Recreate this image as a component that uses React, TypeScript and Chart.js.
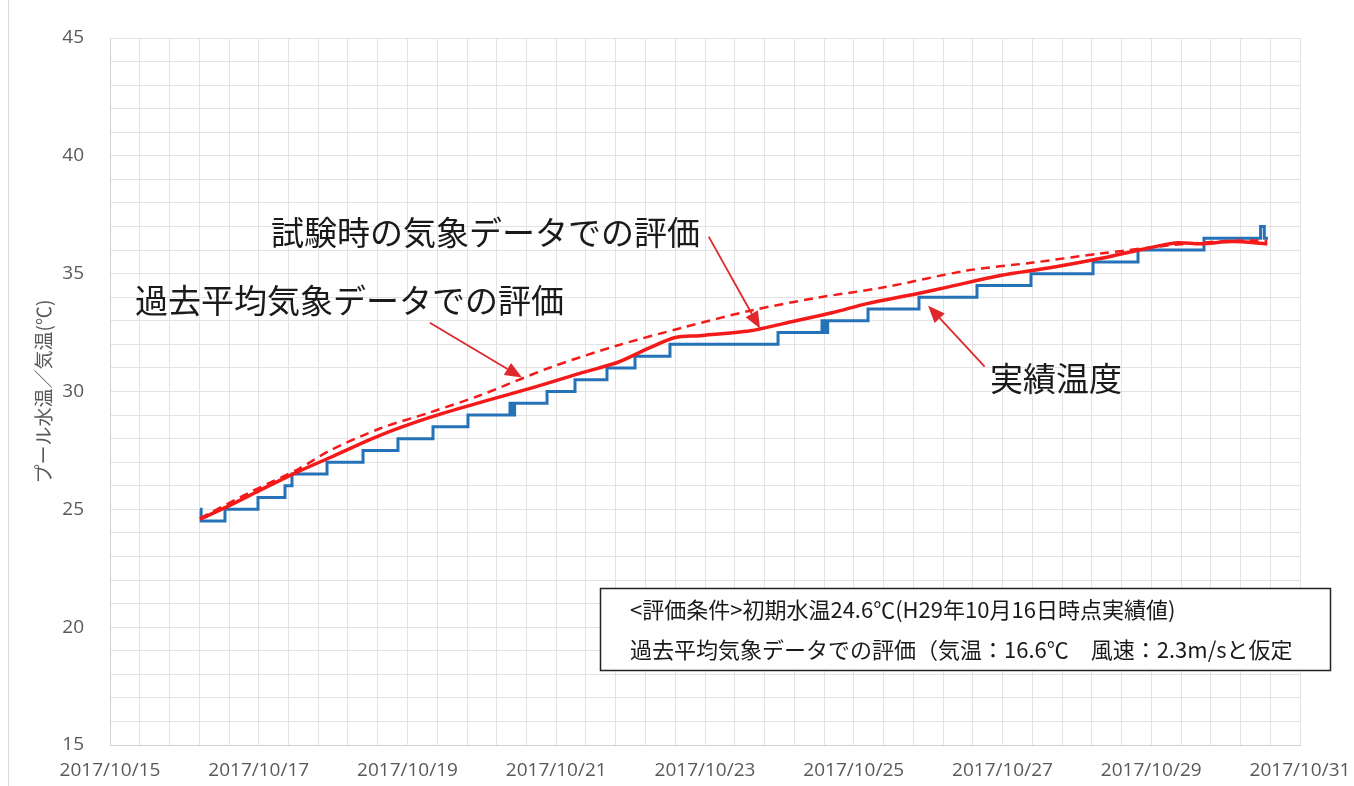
import { useEffect, useRef } from 'react';
import { Chart, registerables } from 'chart.js';

Chart.register(...registerables);

// ---- axis ticks ----
const X_LABEL_DAYS = [15, 17, 19, 21, 23, 25, 27, 29, 31];
const X_TICK_LABELS = X_LABEL_DAYS.map((d) => `2017/10/${d}`);
const Y_TICK_LABELS = [15, 20, 25, 30, 35, 40, 45];
const Y_TITLE = 'プール水温／気温(℃)';

// ---- series: 実績温度 (actual, stepped) ----
const ACTUAL_DAYS = [
  16.21, 16.225, 16.546, 16.99, 17.353, 17.447, 17.918, 18.402, 18.872, 19.343, 19.813,
  20.378, 20.41, 20.44, 20.876, 21.252, 21.682, 22.059, 22.529, 23.982, 24.573, 24.61,
  24.65, 25.192, 25.877, 26.657, 27.383, 28.217, 28.822, 29.709, 30.47, 30.52, 30.57,
];
const ACTUAL_TEMPS = [
  25.0, 24.5, 25.0, 25.5, 26.0, 26.5, 27.0, 27.5, 28.0, 28.5, 29.0,
  29.5, 29.0, 29.5, 30.0, 30.5, 31.0, 31.5, 32.0, 32.5, 33.0, 32.5,
  33.0, 33.5, 34.0, 34.5, 35.0, 35.5, 36.0, 36.5, 37.0, 36.5, 36.5,
];

// ---- series: 試験時の気象データでの評価 ----
const TEST_WEATHER_DAYS = [
  16.21, 16.61, 17.06, 17.51, 17.96, 18.63, 19.3, 19.97, 20.65, 21.36, 21.82, 22.26, 22.6,
  22.93, 23.61, 24.05, 24.72, 25.18, 25.85, 26.29, 26.97, 27.64, 28.31, 28.98, 29.35,
  29.66, 30.1, 30.56,
];
const TEST_WEATHER_TEMPS = [
  24.58, 25.17, 25.88, 26.57, 27.2, 28.14, 28.9, 29.53, 30.13, 30.81, 31.23, 31.86, 32.29,
  32.37, 32.58, 32.88, 33.35, 33.73, 34.15, 34.45, 34.92, 35.25, 35.64, 36.1, 36.31,
  36.27, 36.36, 36.27,
];

// ---- series: 過去平均気象データでの評価 ----
const PAST_AVG_DAYS = [
  16.21, 16.88, 17.55, 17.96, 18.63, 19.3, 19.97, 20.92, 21.82, 22.7, 23.61, 24.51, 25.39,
  26.52, 27.41, 28.31, 29.21, 29.66, 30.1, 30.56,
];
const PAST_AVG_TEMPS = [
  24.62, 25.72, 26.74, 27.5, 28.43, 29.11, 29.83, 31.02, 31.95, 32.71, 33.43, 33.98, 34.41,
  35.13, 35.47, 35.85, 36.19, 36.31, 36.4, 36.4,
];

const SERIES_NAMES = ['試験時の気象データでの評価', '過去平均気象データでの評価', '実績温度'];
const BOX_LINES = [
  '<評価条件>初期水温24.6℃(H29年10月16日時点実績値)',
  '過去平均気象データでの評価（気温：16.6℃　風速：2.3m/sと仮定',
];

const toPoints = (xs: number[], ys: number[]) => xs.map((x, i) => ({ x, y: ys[i] }));

const RED = '#f51a1a';
const ARROW_RED = '#e0282c';
const BLUE = '#2672b8';
const GRID = '#e3e3e3';
const TICK = '#595959';
const CJK = '"Noto Sans CJK JP", "Noto Sans", sans-serif';

// annotation layout (arrows in data units, text/box in pixels)
const ARROWS = [
  { from: [23.05, 36.57], to: [23.74, 32.67] },
  { from: [19.3, 32.92], to: [20.54, 30.59] },
  { from: [26.76, 31.06], to: [26.0, 33.64] },
];
const LABELS = [
  { text: SERIES_NAMES[0], x: 271, y: 232 },
  { text: SERIES_NAMES[1], x: 135, y: 300 },
  { text: SERIES_NAMES[2], x: 990, y: 378 },
];

const annotationPlugin = {
  id: 'annotations',
  beforeDraw(chart: any) {
    const { ctx } = chart;
    ctx.save();
    ctx.strokeStyle = '#d9d9d9';
    ctx.lineWidth = 1;
    ctx.beginPath();
    ctx.moveTo(8.5, 0);
    ctx.lineTo(8.5, chart.height);
    ctx.stroke();
    ctx.restore();
  },
  afterDatasetsDraw(chart: any) {
    const { ctx, scales } = chart;
    const xs = scales.x;
    const ys = scales.y;
    ctx.save();
    // arrows
    for (const a of ARROWS) {
      const x1 = xs.getPixelForValue(a.from[0]);
      const y1 = ys.getPixelForValue(a.from[1]);
      const x2 = xs.getPixelForValue(a.to[0]);
      const y2 = ys.getPixelForValue(a.to[1]);
      const ang = Math.atan2(y2 - y1, x2 - x1);
      const head = 17;
      const half = 7;
      const bx = x2 - head * Math.cos(ang);
      const by = y2 - head * Math.sin(ang);
      ctx.strokeStyle = ARROW_RED;
      ctx.lineWidth = 1.8;
      ctx.beginPath();
      ctx.moveTo(x1, y1);
      ctx.lineTo(bx, by);
      ctx.stroke();
      ctx.fillStyle = ARROW_RED;
      ctx.beginPath();
      ctx.moveTo(x2, y2);
      ctx.lineTo(bx + half * Math.sin(ang), by - half * Math.cos(ang));
      ctx.lineTo(bx - half * Math.sin(ang), by + half * Math.cos(ang));
      ctx.closePath();
      ctx.fill();
    }
    // labels
    ctx.fillStyle = '#1a1a1a';
    ctx.font = `33px ${CJK}`;
    ctx.textAlign = 'left';
    ctx.textBaseline = 'middle';
    for (const l of LABELS) ctx.fillText(l.text, l.x, l.y);
    // box
    ctx.fillStyle = '#ffffff';
    ctx.fillRect(600, 588, 730, 82);
    ctx.strokeStyle = '#222222';
    ctx.lineWidth = 1.5;
    ctx.strokeRect(600.5, 588.5, 730, 82);
    ctx.fillStyle = '#1a1a1a';
    ctx.font = `22px ${CJK}`;
    ctx.fillText(BOX_LINES[0], 630, 610);
    ctx.fillText(BOX_LINES[1], 630, 650);
    ctx.restore();
  },
};

export default function App() {
  const ref = useRef<HTMLCanvasElement | null>(null);
  useEffect(() => {
    if (!ref.current) return;
    const xGrid: number[] = [];
    for (let i = 0; i <= 40; i++) xGrid.push(Math.round((15 + i * 0.4) * 1000) / 1000);
    const yGrid: number[] = [];
    for (let v = 15; v <= 45; v++) yGrid.push(v);

    const chart = new Chart(ref.current, {
      type: 'line',
      data: {
        datasets: [
          {
            label: SERIES_NAMES[0],
            data: toPoints(TEST_WEATHER_DAYS, TEST_WEATHER_TEMPS),
            borderColor: RED,
            borderWidth: 3.5,
            pointRadius: 0,
            tension: 0.3,
            fill: false,
          },
          {
            label: SERIES_NAMES[1],
            data: toPoints(PAST_AVG_DAYS, PAST_AVG_TEMPS),
            borderColor: RED,
            borderWidth: 2.5,
            borderDash: [9, 6],
            pointRadius: 0,
            tension: 0.3,
            fill: false,
          },
          {
            label: SERIES_NAMES[2],
            data: toPoints(ACTUAL_DAYS, ACTUAL_TEMPS),
            borderColor: BLUE,
            borderWidth: 3,
            pointRadius: 0,
            stepped: true,
            fill: false,
          },
        ],
      },
      options: {
        animation: false,
        responsive: false,
        devicePixelRatio: 1,
        layout: { padding: { left: 0, top: 38, right: 54, bottom: 0 } },
        plugins: { legend: { display: false }, tooltip: { enabled: false } },
        scales: {
          x: {
            type: 'linear',
            min: 15,
            max: 31,
            afterBuildTicks: (s: any) => {
              s.ticks = xGrid.map((v) => ({ value: v }));
            },
            afterFit: (s: any) => {
              s.height = 41;
              s.paddingLeft = 0;
              s.paddingRight = 0;
            },
            grid: { color: GRID, drawTicks: false, lineWidth: 1 },
            border: { color: '#d0d0d0' },
            ticks: {
              autoSkip: false,
              maxRotation: 0,
              padding: 14,
              color: TICK,
              font: { family: '"Open Sans", sans-serif', size: 19 },
              callback: (v: any) => {
                const idx = X_LABEL_DAYS.findIndex((d) => Math.abs(d - Number(v)) < 1e-6);
                return idx >= 0 ? X_TICK_LABELS[idx] : '';
              },
            },
          },
          y: {
            type: 'linear',
            min: 15,
            max: 45,
            afterBuildTicks: (s: any) => {
              s.ticks = yGrid.map((v) => ({ value: v }));
            },
            afterFit: (s: any) => {
              s.width = 110;
            },
            grid: { color: GRID, drawTicks: false, lineWidth: 1 },
            border: { color: '#d0d0d0' },
            title: {
              display: true,
              text: Y_TITLE,
              color: TICK,
              font: { family: CJK, size: 19 },
              padding: { top: 32, bottom: 0 },
            },
            ticks: {
              autoSkip: false,
              padding: 26,
              color: TICK,
              font: { family: '"Open Sans", sans-serif', size: 19 },
              callback: (v: any) => (Y_TICK_LABELS.includes(Number(v)) ? String(v) : ''),
            },
          },
        },
      },
      plugins: [annotationPlugin],
    });
    return () => chart.destroy();
  }, []);

  return (
    <div style={{ position: 'absolute', left: 0, top: 0, width: 1354, height: 786, background: '#fff' }}>
      <canvas ref={ref} width={1354} height={786} style={{ display: 'block', width: 1354, height: 786 }} />
    </div>
  );
}
